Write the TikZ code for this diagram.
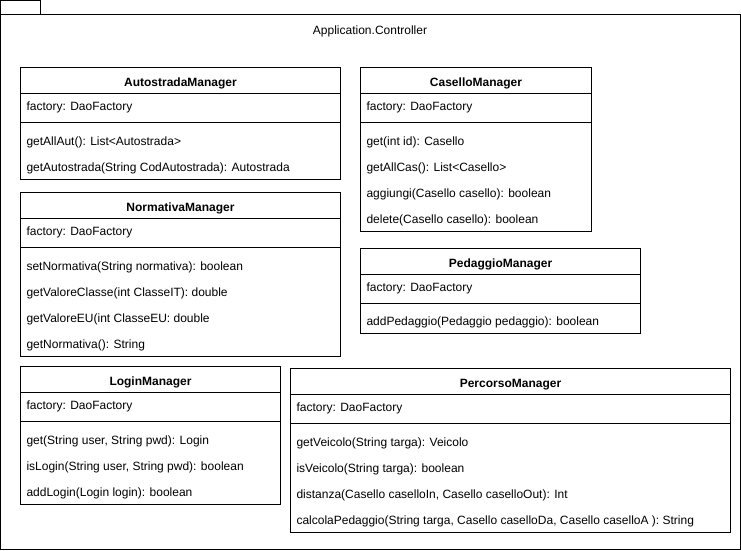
\documentclass[tikz,border=0pt]{standalone}
\usepackage{fontspec}
\setmainfont{Liberation Sans}
\usetikzlibrary{positioning}

\begin{document}
\begin{tikzpicture}[
		x=1pt, y=-1pt,
		line width=1pt,
		font=\fontsize{12pt}{14pt}\selectfont,
		pkg/.style={rectangle, draw, inner sep=0pt, outer sep=0pt, anchor=north west},
		classhead/.style={rectangle, draw, inner sep=0pt, outer sep=0pt, minimum height=26pt, text height=12pt, text depth=0pt, font=\fontsize{12pt}{14pt}\selectfont\bfseries},
		classattr/.style={rectangle, draw, inner sep=0pt, outer sep=0pt, minimum height=29pt},
		classops/.style={rectangle, draw, inner sep=0pt, outer sep=0pt},
		member/.style={inner sep=0pt, outer sep=0pt, text height=9pt, text depth=3pt}
	]
	\useasboundingbox (0,0) rectangle (741,551);

	% package frame
	\node[pkg, minimum width=40pt, minimum height=14pt] (pkgtab) at (0.5,0.5) {};
	\node[pkg, minimum width=740pt, minimum height=535pt] (pkg) at (0.5,14.5) {};
	\node (pkglabel) at (370,31) {Application.Controller};

	% AutostradaManager
	\node[classhead, minimum width=320pt, anchor=north west] (aut) at (20.5,67.5) {AutostradaManager};
	\node[classattr, minimum width=320pt, below=0pt of aut] (autattr) {};
	\node[member, below right=8pt and 6pt of autattr.north west] (autf) {factory: DaoFactory};
	\node[classops, minimum width=320pt, minimum height=57pt, below=0pt of autattr] (autops) {};
	\foreach \m [count=\i] in {{getAllAut(): List<Autostrada>}, {getAutostrada(String CodAutostrada): Autostrada}} {
		\pgfmathsetmacro\dy{14+26*(\i-1)}
		\node[member, below right=\dy pt and 6pt of autops.north west] (autop\i) {\m};
	}

	% NormativaManager
	\node[classhead, minimum width=320pt, below=13pt of autops] (norm) {NormativaManager};
	\node[classattr, minimum width=320pt, below=0pt of norm] (normattr) {};
	\node[member, below right=8pt and 6pt of normattr.north west] (normf) {factory: DaoFactory};
	\node[classops, minimum width=320pt, minimum height=109pt, below=0pt of normattr] (normops) {};
	\foreach \m [count=\i] in {{setNormativa(String normativa): boolean}, {getValoreClasse(int ClasseIT): double}, {getValoreEU(int ClasseEU: double}, {getNormativa(): String}} {
		\pgfmathsetmacro\dy{14+26*(\i-1)}
		\node[member, below right=\dy pt and 6pt of normops.north west] (normop\i) {\m};
	}

	% LoginManager
	\node[classhead, minimum width=260pt, below right=10pt and 0pt of normops.south west] (login) {LoginManager};
	\node[classattr, minimum width=260pt, below=0pt of login] (loginattr) {};
	\node[member, below right=8pt and 6pt of loginattr.north west] (loginf) {factory: DaoFactory};
	\node[classops, minimum width=260pt, minimum height=83pt, below=0pt of loginattr] (loginops) {};
	\foreach \m [count=\i] in {{get(String user, String pwd): Login}, {isLogin(String user, String pwd): boolean}, {addLogin(Login login): boolean}} {
		\pgfmathsetmacro\dy{14+26*(\i-1)}
		\node[member, below right=\dy pt and 6pt of loginops.north west] (loginop\i) {\m};
	}

	% CaselloManager
	\node[classhead, minimum width=231pt, below right=0pt and 20pt of aut.north east] (cas) {CaselloManager};
	\node[classattr, minimum width=231pt, below=0pt of cas] (casattr) {};
	\node[member, below right=8pt and 6pt of casattr.north west] (casf) {factory: DaoFactory};
	\node[classops, minimum width=231pt, minimum height=109pt, below=0pt of casattr] (casops) {};
	\foreach \m [count=\i] in {{get(int id): Casello}, {getAllCas(): List<Casello>}, {aggiungi(Casello casello): boolean}, {delete(Casello casello): boolean}} {
		\pgfmathsetmacro\dy{14+26*(\i-1)}
		\node[member, below right=\dy pt and 6pt of casops.north west] (casop\i) {\m};
	}

	% PedaggioManager
	\node[classhead, minimum width=280pt, below right=17pt and 0pt of casops.south west] (ped) {PedaggioManager};
	\node[classattr, minimum width=280pt, below=0pt of ped] (pedattr) {};
	\node[member, below right=8pt and 6pt of pedattr.north west] (pedf) {factory: DaoFactory};
	\node[classops, minimum width=280pt, minimum height=30pt, below=0pt of pedattr] (pedops) {};
	\node[member, below right=13pt and 6pt of pedops.north west] (pedop1) {addPedaggio(Pedaggio pedaggio): boolean};

	% PercorsoManager
	\node[classhead, minimum width=440pt, below right=2pt and 10pt of login.north east] (perc) {PercorsoManager};
	\node[classattr, minimum width=440pt, below=0pt of perc] (percattr) {};
	\node[member, below right=8pt and 6pt of percattr.north west] (percf) {factory: DaoFactory};
	\node[classops, minimum width=440pt, minimum height=109pt, below=0pt of percattr] (percops) {};
	\foreach \m [count=\i] in {{getVeicolo(String targa): Veicolo}, {isVeicolo(String targa): boolean}, {distanza(Casello caselloIn, Casello caselloOut): Int}, {calcolaPedaggio(String targa, Casello caselloDa, Casello caselloA ): String}} {
		\pgfmathsetmacro\dy{14+26*(\i-1)}
		\node[member, below right=\dy pt and 6pt of percops.north west] (percop\i) {\m};
	}

\end{tikzpicture}
\end{document}
